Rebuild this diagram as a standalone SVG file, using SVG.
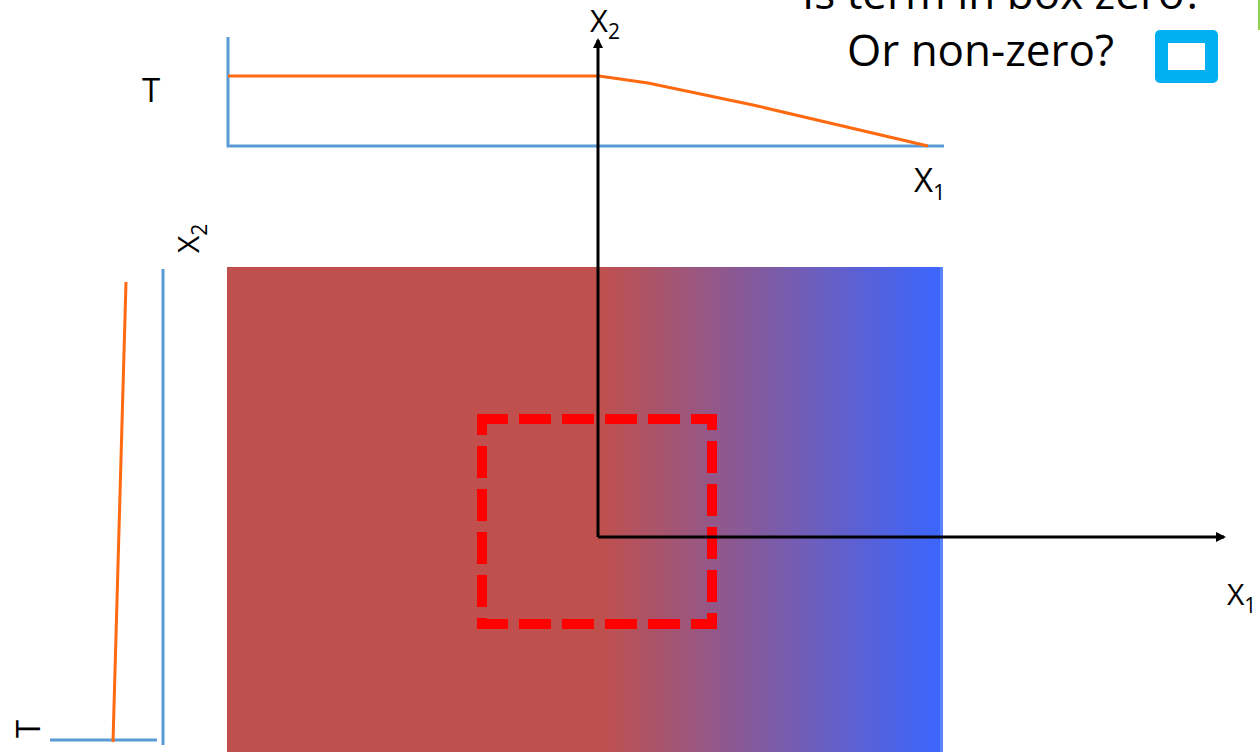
<svg xmlns="http://www.w3.org/2000/svg" width="1260" height="752" viewBox="0 0 1260 752">
<style>
.t{font-family:"Open Sans","Noto Sans",sans-serif;fill:#000}
.ax{stroke:#5B9BD5;stroke-width:3;fill:none}
.or{stroke:#FF6A10;stroke-width:3;fill:none}
.arr{stroke:#000;stroke-width:3;fill:none}
</style>
<defs>
<linearGradient id="g" x1="227" y1="0" x2="943" y2="0" gradientUnits="userSpaceOnUse">
<stop offset="0" stop-color="#C0504D"/>
<stop offset="0.52" stop-color="#C0504D"/>
<stop offset="1" stop-color="#3A66FF"/>
</linearGradient>
<marker id="ah" markerWidth="10" markerHeight="10" refX="8" refY="5" orient="auto" markerUnits="userSpaceOnUse" viewBox="0 0 10 10">
<path d="M0,0 L10,5 L0,10 z" fill="#000"/>
</marker>
</defs>
<g id="field">
<rect x="227" y="267" width="716" height="485" fill="url(#g)"/>
<rect x="940" y="267" width="3" height="485" fill="#5A84FF"/>
</g>
<g id="box">
<rect x="482" y="419" width="230" height="205" fill="none" stroke="#FF0000" stroke-width="10" stroke-dasharray="32,11" stroke-dashoffset="6"/>
</g>
<g id="topchart">
<path class="ax" d="M228,37 V146 H944"/>
<path class="or" d="M228,76 L599,76 L648,83 L753,105 L928,146"/>
<text class="t" x="142" y="102" font-size="33">T</text>
<text class="t" x="914" y="192" font-size="33">X<tspan font-size="22" dy="8">1</tspan></text>
</g>
<g id="leftchart">
<path class="ax" d="M163,269 V745 M50,740 H157"/>
<path class="or" d="M126,282 L113,742"/>
<text class="t" font-size="33" transform="translate(40,738) rotate(-90)">T</text>
<text class="t" font-size="30" transform="translate(199,253) rotate(-90)">X<tspan font-size="21" dy="8">2</tspan></text>
</g>
<g id="connectors">
<path class="arr" d="M598,537 V40" marker-end="url(#ah)"/>
<path class="arr" d="M598,537 H1224" marker-end="url(#ah)"/>
</g>
<g id="axislabels">
<text class="t" x="590" y="32" font-size="31">X<tspan font-size="21" dy="7">2</tspan></text>
<text class="t" x="1227" y="605" font-size="30">X<tspan font-size="21" dy="8">1</tspan></text>
</g>
<g id="question">
<text class="t" x="802" y="9" font-size="44">Is term in box zero?</text>
<text class="t" x="847" y="66" font-size="44">Or non-zero?</text>
<rect x="1155" y="30" width="63" height="53" rx="5" fill="#00B0F0"/>
<rect x="1168" y="43" width="37" height="27" fill="#fff"/>
<rect x="1258" y="0" width="2" height="30" fill="#92D050"/>
</g>
</svg>
